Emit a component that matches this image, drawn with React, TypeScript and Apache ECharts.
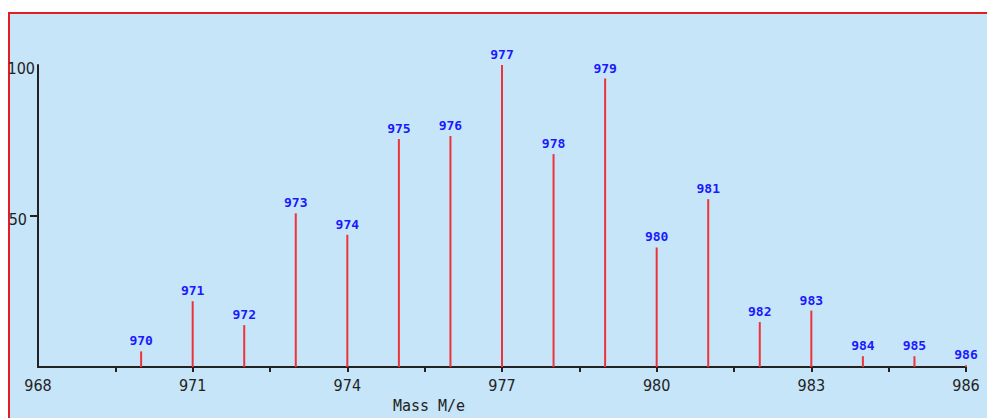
import React, { useEffect, useRef } from "react";
import * as echarts from "echarts";

const masses = [970, 971, 972, 973, 974, 975, 976, 977, 978, 979, 980, 981, 982, 983, 984, 985, 986];
const intensities = [5.2, 21.8, 13.9, 50.9, 43.8, 75.5, 76.5, 100, 70.5, 95.5, 39.6, 55.6, 14.9, 18.7, 3.6, 3.6, 0.6];
const xTickValues = [969.5, 971, 972.5, 974, 975.5, 977, 978.5, 980, 981.5, 983, 984.5, 986];
const xLabelValues = [968, 971, 974, 977, 980, 983, 986];
const yTickValues = [50];
const yLabelValues = [50, 100];
const xAxisName = "Mass M/e";

const tickFont = "'DejaVu Sans Condensed', 'Liberation Sans', sans-serif";

export default function App() {
  const ref = useRef<HTMLDivElement>(null);
  useEffect(() => {
    if (!ref.current) return;
    const chart = echarts.init(ref.current, undefined, { renderer: "svg", width: 987, height: 418 });
    const data = masses.map((m, i) => [m, intensities[i]]);
    chart.setOption({
      animation: false,
      backgroundColor: "transparent",
      grid: { left: 38, right: 21, top: 65, bottom: 43, containLabel: false },
      xAxis: {
        type: "value",
        min: 968,
        max: 986,
        splitLine: { show: false },
        axisLine: { show: true, lineStyle: { color: "#222", width: 2 } },
        axisTick: { show: true, customValues: xTickValues, length: 5, lineStyle: { color: "#222", width: 2 } },
        axisLabel: {
          customValues: xLabelValues,
          margin: 10,
          color: "#222",
          fontSize: 16,
          fontFamily: tickFont,
          showMinLabel: true,
          showMaxLabel: true,
        },
        name: xAxisName,
        nameLocation: "middle",
        nameGap: 29,
        nameTextStyle: {
          fontFamily: "'DejaVu Sans Mono', monospace",
          fontSize: 15,
          color: "#222",
          padding: [0, 146, 0, 0],
        },
      },
      yAxis: {
        type: "value",
        min: 0,
        max: 100,
        splitLine: { show: false },
        axisLine: { show: true, lineStyle: { color: "#222", width: 2 } },
        axisTick: { show: true, customValues: yTickValues, length: 8, lineStyle: { color: "#222", width: 2 } },
        axisLabel: {
          customValues: yLabelValues,
          margin: 3,
          formatter: (v: number) => (v === 50 ? "{b|50}" : "{a|" + v + "}"),
          rich: {
            a: { fontSize: 16, fontFamily: tickFont, color: "#222", padding: [6, 0, 0, 0] },
            b: { fontSize: 16, fontFamily: tickFont, color: "#222", padding: [6, 8, 0, 0] },
          },
        },
      },
      series: [
        {
          type: "bar",
          data,
          barWidth: 2,
          itemStyle: { color: "#ee3338" },
          label: {
            show: true,
            position: "top",
            distance: 4,
            formatter: (p: any) => String(p.value[0]),
            color: "#1a1aff",
            fontFamily: "'DejaVu Sans Mono', monospace",
            fontWeight: "bold",
            fontSize: 13,
          },
        },
      ],
    });
    return () => chart.dispose();
  }, []);

  return (
    <div style={{ position: "fixed", left: 0, top: 0, width: 987, height: 418, background: "#fff", overflow: "hidden" }}>
      <div
        style={{
          position: "absolute",
          left: 8,
          top: 12,
          width: 1000,
          height: 430,
          background: "#c7e5f8",
          borderTop: "2px solid #e02020",
          borderLeft: "2px solid #e02020",
        }}
      />
      <div ref={ref} style={{ position: "absolute", left: 0, top: 0, width: 987, height: 418 }} />
    </div>
  );
}
